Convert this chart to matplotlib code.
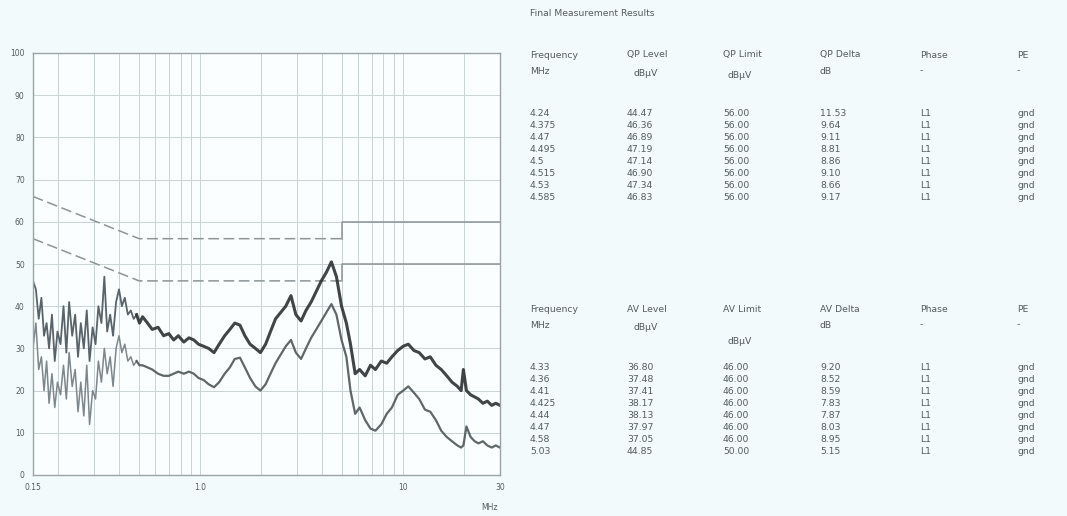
import matplotlib
matplotlib.use("Agg")
import matplotlib.pyplot as plt
from matplotlib.ticker import FixedLocator, NullFormatter, LogLocator

# -------------------------------
# 1. Trace data
# -------------------------------

freq_mhz = [
    0.150, 0.155, 0.160, 0.165, 0.170, 0.175, 0.180, 0.186, 0.192, 0.198,
    0.205, 0.212, 0.219, 0.226, 0.234, 0.242, 0.250, 0.258, 0.267, 0.276,
    0.285, 0.295, 0.305, 0.315, 0.326, 0.337, 0.348, 0.360, 0.372, 0.385,
    0.398, 0.411, 0.425, 0.440, 0.455, 0.470, 0.486, 0.502,
    0.52, 0.55, 0.58, 0.62, 0.66, 0.70, 0.74, 0.78, 0.83, 0.88,
    0.93, 0.98, 1.04, 1.10, 1.17, 1.24, 1.32, 1.40, 1.48, 1.57,
    1.66, 1.76, 1.87, 1.98, 2.10, 2.22, 2.35, 2.49, 2.64, 2.80,
    2.96, 3.14, 3.32, 3.52, 3.73, 3.95, 4.18, 4.43, 4.69, 4.97,
    5.25, 5.5, 5.8, 6.1, 6.5, 6.9, 7.3, 7.8, 8.3, 8.8,
    9.4, 10.0, 10.6, 11.3, 12.0, 12.8, 13.6, 14.5, 15.4, 16.4,
    17.4, 18.5, 19.3, 19.8, 20.5, 21.5, 22.5, 23.5, 24.7, 26.0,
    27.3, 28.6, 30.0,
]

peak_dbuv = [
    46, 44, 37, 42, 33, 36, 30, 38, 27, 34,
    31, 40, 29, 41, 33, 38, 28, 36, 30, 39,
    27, 35, 31, 40, 36, 47, 34, 38, 33, 41,
    44, 40, 42, 38, 39, 37, 38, 36,
    37.5, 36, 34.5, 35, 33, 33.5, 32, 33, 31.5, 32.5,
    32, 31, 30.5, 30, 29, 31, 33, 34.5, 36, 35.5,
    33, 31, 30, 29, 31, 34, 37, 38.5, 40, 42.5,
    38, 36.5, 39, 41, 43.5, 46, 48, 50.5, 47, 40,
    36, 31, 24, 25, 23.5, 26, 25, 27, 26.5, 28,
    29.5, 30.5, 31, 29.5, 29, 27.5, 28, 26, 25, 23.5,
    22, 21, 20, 25, 20, 19, 18.5, 18, 17, 17.5,
    16.5, 17, 16.5,
]

avg_dbuv = [
    30, 36, 25, 28, 20, 27, 17, 24, 16, 22,
    19, 26, 18, 29, 21, 25, 15, 22, 14, 26,
    12, 20, 18, 27, 22, 30, 24, 28, 21, 30,
    33, 29, 31, 27, 28, 26, 27, 26,
    26, 25.5, 25, 24, 23.5, 23.5, 24, 24.5, 24, 24.5,
    24, 23, 22.5, 21.5, 20.8, 22, 24, 25.5, 27.5, 27.8,
    25.5, 23, 21, 20, 21.5, 24, 26.5, 28.5, 30.5, 32,
    29, 27.5, 30, 32.5, 34.5, 36.5, 38.5, 40.5, 38, 32,
    28, 20, 14.5, 16, 13, 11, 10.5, 12, 14.5, 16,
    19, 20, 21, 19.5, 18, 15.5, 15, 13, 10.5, 9,
    8, 7, 6.5, 7, 11.5, 9, 8, 7.5, 8, 7,
    6.5, 7, 6.5,
]

# EN 55022 class B limits
limit_f = [0.15, 0.5, 5.0]
qp_limit = [66, 56, 56]
av_limit = [56, 46, 46]
limit_f_hi = [5.0, 5.0, 30.0]
qp_limit_hi = [56, 60, 60]
av_limit_hi = [46, 50, 50]

# -------------------------------
# 2. Table data
# -------------------------------

qp_freq = ["4.24", "4.375", "4.47", "4.495", "4.5", "4.515", "4.53", "4.585"]
qp_level = [44.47, 46.36, 46.89, 47.19, 47.14, 46.90, 47.34, 46.83]
qp_lim = [56.00] * 8
qp_delta = [11.53, 9.64, 9.11, 8.81, 8.86, 9.10, 8.66, 9.17]

av_freq = ["4.33", "4.36", "4.41", "4.425", "4.44", "4.47", "4.58", "5.03"]
av_level = [36.80, 37.48, 37.41, 38.17, 38.13, 37.97, 37.05, 44.85]
av_lim = [46.00] * 7 + [50.00]
av_delta = [9.20, 8.52, 8.59, 7.83, 7.87, 8.03, 8.95, 5.15]

W, H = 1067, 516
bg = "#f3fafb"
txt = "#555b5e"

fig = plt.figure(figsize=(W / 100, H / 100), dpi=100, facecolor=bg)

# -------------------------------
# 3. Spectrum plot
# -------------------------------

ax = fig.add_axes([33 / W, 1 - 475 / H, (500 - 33) / W, (475 - 53) / H])
ax.set_facecolor("#fbfefe")
ax.set_xscale("log")
ax.set_xlim(0.15, 30)
ax.set_ylim(0, 100)

ax.xaxis.set_major_locator(FixedLocator([0.15, 1.0, 10, 30]))
ax.xaxis.set_minor_locator(LogLocator(base=10, subs=range(2, 10)))
ax.xaxis.set_minor_formatter(NullFormatter())
ax.set_xticklabels(["0.15", "1.0", "10", "30"])
ax.set_yticks(range(0, 101, 10))

ax.grid(True, which="both", color="#c9d3d6", lw=0.7)
ax.set_axisbelow(True)
ax.tick_params(axis="both", which="both", length=0, labelsize=5.5,
               labelcolor=txt, pad=6)
for s in ax.spines.values():
    s.set_color("#9aa4a8")
    s.set_linewidth(1.0)

ax.plot(limit_f, qp_limit, color="#8c9497", lw=1.1, ls=(0, (7, 3)))
ax.plot(limit_f, av_limit, color="#8c9497", lw=1.1, ls=(0, (7, 3)))
ax.plot(limit_f_hi, qp_limit_hi, color="#8c9497", lw=1.1)
ax.plot(limit_f_hi, av_limit_hi, color="#8c9497", lw=1.1)

# low band is a thin, light scribble in the scan; the rest is heavy
n = 36
ax.plot(freq_mhz[:n + 1], avg_dbuv[:n + 1], color="#7d878c", lw=1.1)
ax.plot(freq_mhz[:n + 1], peak_dbuv[:n + 1], color="#59636a", lw=1.3)
ax.plot(freq_mhz[n:], avg_dbuv[n:], color="#4e5659", lw=1.6, alpha=0.9)
ax.plot(freq_mhz[n:], peak_dbuv[n:], color="#2c3133", lw=2.2, alpha=0.9)

fig.text(490 / W, 1 - 507 / H, "MHz", fontsize=5.5, color=txt,
         ha="center", va="center")

# -------------------------------
# 4. Result tables
# -------------------------------

def put(x, y, s, **kw):
    fig.text(x / W, 1 - y / H, s, fontsize=6.7, color=txt, va="center", **kw)

put(530, 14, "Final Measurement Results")

col_x = [530, 627, 723, 820, 920, 1017]

def table(top, name, freqs, levels, limits, deltas):
    heads = ["Frequency", name + " Level", name + " Limit",
             name + " Delta", "Phase", "PE"]
    for x, h in zip(col_x, heads):
        put(x, top, h)
    put(col_x[0], top + 16, "MHz")
    put(col_x[1] + 6, top + 18, "dB\u00b5V")
    put(col_x[2] + 4, top + 20 if name == "QP" else top + 33, "dB\u00b5V")
    put(col_x[3], top + 16, "dB")
    put(col_x[4], top + 16, "-")
    put(col_x[5], top + 16, "-")
    for i in range(len(freqs)):
        y = top + 58 + i * 12.1
        put(col_x[0], y, freqs[i])
        put(col_x[1], y, f"{levels[i]:.2f}")
        put(col_x[2], y, f"{limits[i]:.2f}")
        put(col_x[3], y, f"{deltas[i]:.2f}")
        put(col_x[4], y, "L1")
        put(col_x[5], y, "gnd")

table(55, "QP", qp_freq, qp_level, qp_lim, qp_delta)
table(309, "AV", av_freq, av_level, av_lim, av_delta)

fig.savefig("out.png", dpi=100, facecolor=bg)
